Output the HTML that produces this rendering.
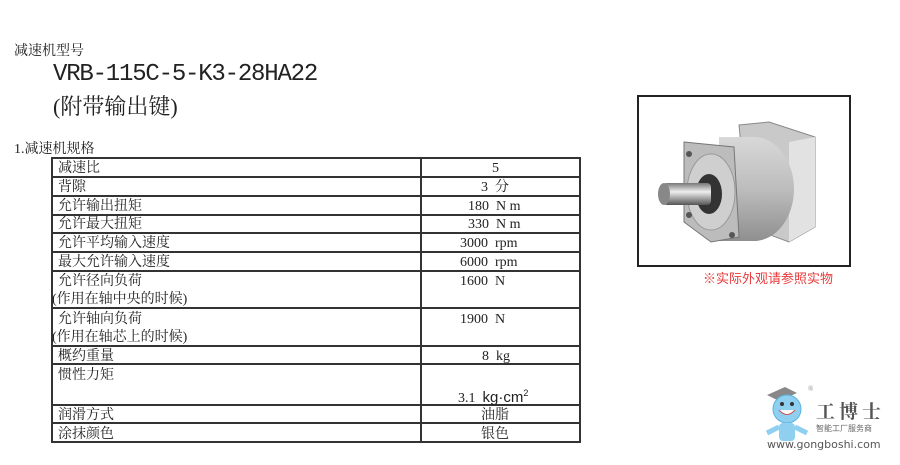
<!DOCTYPE html>
<html><head><meta charset="utf-8"><style>
body{margin:0;width:900px;height:465px;background:#fff;position:relative;overflow:hidden;font-family:"Liberation Serif","Noto Serif CJK SC","Noto Sans CJK SC",serif;color:#222}
.a{position:absolute;white-space:nowrap}
.r{position:absolute;left:52px;width:528px;border-top:2px solid #333}
.v{position:absolute;top:157px;height:286px;border-left:2px solid #333}
.c{position:absolute;font-size:14px;line-height:18px;white-space:nowrap;margin-top:2px}
</style></head><body>
<div class="a" style="left:14px;top:40px;font-size:14px">减速机型号</div>
<div class="a" style="left:53px;top:61px;font-size:24px;font-family:'Liberation Mono','DejaVu Sans Mono',monospace;letter-spacing:-1.2px">VRB-115C-5-K3-28HA22</div>
<div class="a" style="left:53px;top:90px;font-size:22px">(附带输出键)</div>
<div class="a" style="left:14px;top:138px;font-size:14px">1.减速机规格</div>

<div class="r" style="top:157px"></div>
<div class="r" style="top:176px"></div>
<div class="r" style="top:195px"></div>
<div class="r" style="top:214px"></div>
<div class="r" style="top:232px"></div>
<div class="r" style="top:251px"></div>
<div class="r" style="top:270px"></div>
<div class="r" style="top:307px"></div>
<div class="r" style="top:345px"></div>
<div class="r" style="top:363px"></div>
<div class="r" style="top:404px"></div>
<div class="r" style="top:422px"></div>
<div class="r" style="top:441px"></div>
<div class="v" style="left:51px"></div>
<div class="v" style="left:420px"></div>
<div class="v" style="left:579px"></div>

<div class="c" style="left:58px;top:158px">减速比</div><div class="c" style="left:492px;top:158px">5</div>
<div class="c" style="left:58px;top:177px">背隙</div><div class="c" style="left:481px;top:177px">3 &nbsp;分</div>
<div class="c" style="left:58px;top:196px">允许输出扭矩</div><div class="c" style="left:468px;top:196px">180 &nbsp;N m</div>
<div class="c" style="left:58px;top:214px">允许最大扭矩</div><div class="c" style="left:468px;top:214px">330 &nbsp;N m</div>
<div class="c" style="left:58px;top:233px">允许平均输入速度</div><div class="c" style="left:460px;top:233px">3000 &nbsp;rpm</div>
<div class="c" style="left:58px;top:252px">最大允许输入速度</div><div class="c" style="left:460px;top:252px">6000 &nbsp;rpm</div>
<div class="c" style="left:58px;top:271px">允许径向负荷</div><div class="c" style="left:460px;top:271px">1600 &nbsp;N</div>
<div class="c" style="left:52px;top:289px">(作用在轴中央的时候)</div>
<div class="c" style="left:58px;top:309px">允许轴向负荷</div><div class="c" style="left:460px;top:309px">1900 &nbsp;N</div>
<div class="c" style="left:52px;top:327px">(作用在轴芯上的时候)</div>
<div class="c" style="left:58px;top:346px">概约重量</div><div class="c" style="left:482px;top:346px">8 &nbsp;kg</div>
<div class="c" style="left:58px;top:365px">惯性力矩</div>
<div class="c" style="left:458px;top:382px">3.1 &nbsp;<span style="font-family:'Liberation Sans',sans-serif;font-size:15px">kg·cm<sup style="font-size:9px">2</sup></span></div>
<div class="c" style="left:58px;top:405px">润滑方式</div><div class="c" style="left:481px;top:405px">油脂</div>
<div class="c" style="left:58px;top:424px">涂抹颜色</div><div class="c" style="left:481px;top:424px">银色</div>

<div class="a" style="left:637px;top:95px;width:210px;height:168px;border:2px solid #222;background:#fff"></div>
<svg class="a" style="left:639px;top:97px" width="210" height="168">
<defs><linearGradient id="g" x1="0" y1="0" x2="0" y2="1"><stop offset="0" stop-color="#d8d8d8"/><stop offset="0.5" stop-color="#bdbdbd"/><stop offset="1" stop-color="#8f8f8f"/></linearGradient>
<linearGradient id="s" x1="0" y1="0" x2="0" y2="1"><stop offset="0" stop-color="#777"/><stop offset="0.4" stop-color="#eee"/><stop offset="1" stop-color="#555"/></linearGradient></defs>
<polygon points="100,28 130,25 176,40 176,130 150,145 110,130" fill="#c9c9c9" stroke="#888"/>
<polygon points="150,45 176,40 176,130 150,145" fill="#e2e2e2"/>
<ellipse cx="115" cy="92" rx="40" ry="52" fill="url(#g)"/>
<rect x="80" y="40" width="38" height="104" fill="url(#g)"/>
<polygon points="45,45 95,50 100,140 72,145 45,125" fill="#bcbcbc" stroke="#777"/>
<ellipse cx="72" cy="95" rx="24" ry="38" fill="#cfcfcf" stroke="#999"/>
<ellipse cx="70" cy="97" rx="13" ry="20" fill="#333"/>
<rect x="24" y="86" width="48" height="22" rx="4" fill="url(#s)"/>
<ellipse cx="25" cy="97" rx="6" ry="11" fill="#888"/>
<circle cx="50" cy="57" r="3" fill="#555"/><circle cx="50" cy="118" r="3" fill="#555"/><circle cx="93" cy="138" r="3" fill="#555"/>
</svg>
<div class="a" style="left:703px;top:268px;font-size:13px;color:#e83a3a;font-family:'Liberation Sans','Noto Sans CJK SC',sans-serif">※实际外观请参照实物</div>

<svg class="a" style="left:765px;top:383px" width="60" height="60">
<polygon points="2,12 20,4 32,10 14,18" fill="#888"/>
<circle cx="22" cy="26" r="14" fill="#8fcff0" stroke="#5bb2e0"/>
<path d="M14 27 Q22 36 30 27" fill="#fff" stroke="#c55"/>
<circle cx="17" cy="21" r="2" fill="#333"/><circle cx="27" cy="21" r="2" fill="#333"/>
<rect x="14" y="40" width="16" height="18" rx="4" fill="#8fcff0"/>
<path d="M14 44 L2 50 M30 44 L42 50" stroke="#8fcff0" stroke-width="5"/>
</svg>
<div class="a" style="left:808px;top:385px;font-size:7px;color:#888">®</div>
<div class="a" style="left:816px;top:397px;font-size:19px;font-weight:bold;color:#555;letter-spacing:4px">工博士</div>
<div class="a" style="left:816px;top:423px;font-size:8px;color:#666;font-family:'Liberation Sans','Noto Sans CJK SC',sans-serif">智能工厂服务商</div>
<div class="a" style="left:767px;top:438px;font-size:11px;color:#555;font-family:'DejaVu Sans',sans-serif">www.gongboshi.com</div>
</body></html>
